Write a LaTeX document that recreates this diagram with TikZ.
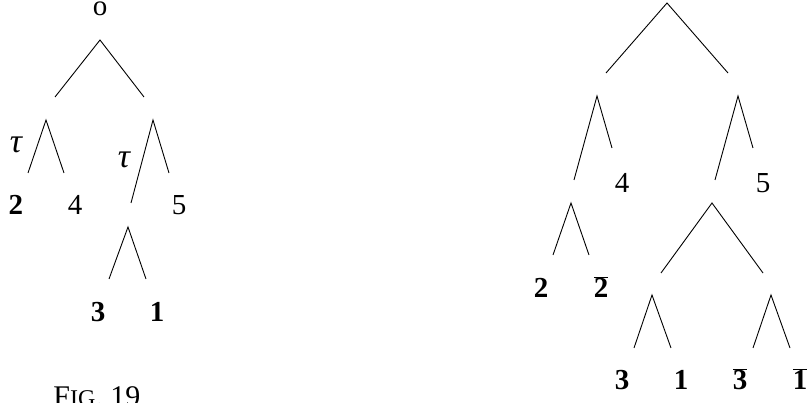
\documentclass[tikz,border=0pt]{standalone}
\usepackage{fontspec}
\setmainfont{Liberation Serif}
\usepackage{tikz}

\tikzset{
  branch/.style={line width=0.9pt, black},
  lab/.style={anchor=base, inner sep=0pt, font=\fontsize{29}{34}\selectfont},
  taulab/.style={lab, font=\fontsize{34}{40}\selectfont\itshape}
}
\newcommand{\barnum}[1]{$\overline{\mbox{\bfseries #1}}$}

\begin{document}
\begin{tikzpicture}[x=1pt,y=-1pt]
  \useasboundingbox (0,0) rectangle (807,403);

  % left tree
  \coordinate (a) at (100,40);  \coordinate (al) at (55,97);   \coordinate (ar) at (144,97);
  \coordinate (b) at (46,120);  \coordinate (bl) at (28,173);  \coordinate (br) at (64,173);
  \coordinate (c) at (153,120); \coordinate (cl) at (131,203); \coordinate (cr) at (169,173);
  \coordinate (d) at (128,227); \coordinate (dl) at (109,279); \coordinate (dr) at (146,279);

  % right tree
  \coordinate (e) at (667,3);   \coordinate (el) at (606,73);  \coordinate (er) at (728,73);
  \coordinate (f) at (597,96);  \coordinate (fl) at (574,180); \coordinate (fr) at (612,148);
  \coordinate (g) at (738,96);  \coordinate (gl) at (715,180); \coordinate (gr) at (753,148);
  \coordinate (h) at (571,203); \coordinate (hl) at (553,255); \coordinate (hr) at (589,255);
  \coordinate (i) at (712,203); \coordinate (il) at (661,273); \coordinate (ir) at (763,273);
  \coordinate (j) at (652,295); \coordinate (jl) at (634,348); \coordinate (jr) at (671,348);
  \coordinate (k) at (771,295); \coordinate (kl) at (753,348); \coordinate (kr) at (790,348);

  \foreach \t in {a,b,c,d,e,f,g,h,i,j,k}
    \draw[branch] (\t l) -- (\t) -- (\t r);

  \node[lab] (root) at (100,16) {o};
  \node[taulab] (tauL) at (16,153) {τ};
  \node[taulab] (tauR) at (124,168) {τ};
  \node[lab] (twoL) at (16,215) {\textbf{2}};
  \node[lab] (fourL) at (75,215) {4};
  \node[lab] (fiveL) at (179,215) {5};
  \node[lab] (threeL) at (98,322) {\textbf{3}};
  \node[lab] (oneL) at (157,322) {\textbf{1}};
  \node[lab, font=\fontsize{30}{34}\selectfont] (caption) at (97,407) {F{\fontsize{24}{26}\selectfont IG}. 19};

  \node[lab] (fourR) at (622,193) {4};
  \node[lab] (fiveR) at (763,193) {5};
  \node[lab] (twoR) at (541,298) {\textbf{2}};
  \node[lab] (twobR) at (601,298) {\barnum{2}};
  \node[lab] (threeR) at (622,390) {\textbf{3}};
  \node[lab] (oneR) at (681,390) {\textbf{1}};
  \node[lab] (threebR) at (740,390) {\barnum{3}};
  \node[lab] (onebR) at (800,390) {\barnum{1}};
\end{tikzpicture}
\end{document}
